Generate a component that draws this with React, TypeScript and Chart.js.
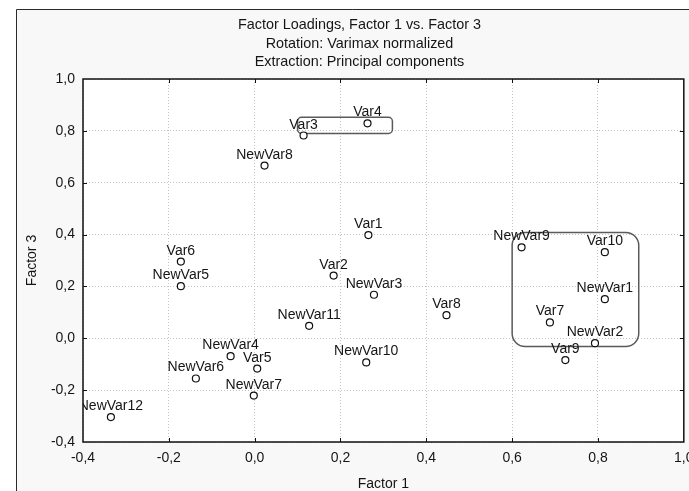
import React, { useEffect, useRef } from 'react';
import { Chart, registerables } from 'chart.js';

Chart.register(...registerables);

// ---- data ----
const varNames = [
  'Var4', 'Var3', 'NewVar8', 'Var6', 'NewVar5', 'Var2', 'Var1', 'NewVar9',
  'Var10', 'NewVar1', 'Var7', 'NewVar2', 'Var9', 'Var8', 'NewVar3', 'NewVar10',
  'NewVar11', 'NewVar4', 'Var5', 'NewVar6', 'NewVar7', 'NewVar12',
];
const factor1 = [
  0.263, 0.114, 0.023, -0.172, -0.172, 0.184, 0.265, 0.622,
  0.816, 0.816, 0.688, 0.793, 0.724, 0.447, 0.278, 0.260,
  0.127, -0.056, 0.006, -0.137, -0.002, -0.335,
];
const factor3 = [
  0.829, 0.782, 0.666, 0.296, 0.201, 0.242, 0.398, 0.351,
  0.332, 0.151, 0.061, -0.019, -0.084, 0.089, 0.168, -0.093,
  0.048, -0.069, -0.117, -0.155, -0.221, -0.304,
];
const titleLines = [
  'Factor Loadings, Factor 1 vs. Factor 3',
  'Rotation: Varimax normalized',
  'Extraction: Principal components',
];
const xAxisTitle = 'Factor 1';
const yAxisTitle = 'Factor 3';
const axisMin = -0.4;
const axisMax = 1.0;
const axisStep = 0.2;
// highlighted groups (rounded boxes), in data coordinates
const groupXMin = [0.100, 0.600];
const groupXMax = [0.321, 0.895];
const groupYMin = [0.790, -0.032];
const groupYMax = [0.852, 0.408];
const groupRadius = [4, 13];

const FONT = '"Liberation Sans", Arial, Helvetica, sans-serif';
const TEXT = '#151515';

const fmt = (v: number) => {
  const r = Math.abs(v) < 1e-9 ? 0 : v;
  return r.toFixed(1).replace('.', ',');
};

function roundRect(ctx: CanvasRenderingContext2D, x: number, y: number, w: number, h: number, r: number) {
  ctx.beginPath();
  ctx.moveTo(x + r, y);
  ctx.lineTo(x + w - r, y);
  ctx.arcTo(x + w, y, x + w, y + r, r);
  ctx.lineTo(x + w, y + h - r);
  ctx.arcTo(x + w, y + h, x + w - r, y + h, r);
  ctx.lineTo(x + r, y + h);
  ctx.arcTo(x, y + h, x, y + h - r, r);
  ctx.lineTo(x, y + r);
  ctx.arcTo(x, y, x + r, y, r);
  ctx.closePath();
}

const decor = {
  id: 'decor',
  afterLayout(chart: any) {
    const t = chart.titleBlock;
    if (t) {
      t.left = 16;
      t.right = 703;
      t.width = 687;
    }
  },
  beforeDraw(chart: any) {
    const { ctx, width, height, chartArea: a } = chart;
    ctx.save();
    ctx.fillStyle = '#ffffff';
    ctx.fillRect(0, 0, width, height);
    ctx.fillStyle = '#f8f8f8';
    ctx.fillRect(16, 9, width, height);
    ctx.strokeStyle = '#2a2a2a';
    ctx.lineWidth = 1;
    ctx.beginPath();
    ctx.moveTo(16.5, height);
    ctx.lineTo(16.5, 9.5);
    ctx.lineTo(width, 9.5);
    ctx.stroke();
    ctx.fillStyle = '#ffffff';
    ctx.fillRect(a.left, a.top, a.right - a.left, a.bottom - a.top);
    ctx.restore();
  },
  beforeDatasetsDraw(chart: any) {
    const { ctx } = chart;
    const xs = chart.scales.x;
    const ys = chart.scales.y;
    ctx.save();
    ctx.strokeStyle = '#5a5a5a';
    ctx.lineWidth = 1.5;
    for (let i = 0; i < groupXMin.length; i++) {
      const x1 = xs.getPixelForValue(groupXMin[i]);
      const x2 = xs.getPixelForValue(groupXMax[i]);
      const y1 = ys.getPixelForValue(groupYMax[i]);
      const y2 = ys.getPixelForValue(groupYMin[i]);
      roundRect(ctx, x1, y1, x2 - x1, y2 - y1, groupRadius[i]);
      ctx.stroke();
    }
    ctx.restore();
  },
  afterDatasetsDraw(chart: any) {
    const { ctx, chartArea: a } = chart;
    const xs = chart.scales.x;
    const ys = chart.scales.y;
    ctx.save();
    // point labels, clipped to the plot area
    ctx.beginPath();
    ctx.rect(a.left, a.top, a.right - a.left, a.bottom - a.top);
    ctx.clip();
    ctx.font = `14px ${FONT}`;
    ctx.fillStyle = TEXT;
    ctx.textAlign = 'center';
    ctx.textBaseline = 'alphabetic';
    for (let i = 0; i < varNames.length; i++) {
      const px = xs.getPixelForValue(factor1[i]);
      const py = ys.getPixelForValue(factor3[i]);
      ctx.fillText(varNames[i], px, py - 7);
    }
    ctx.restore();
    ctx.save();
    // plot border
    ctx.strokeStyle = '#111111';
    ctx.lineWidth = 1.5;
    ctx.strokeRect(a.left, a.top, a.right - a.left, a.bottom - a.top);
    // inward tick marks
    ctx.lineWidth = 1;
    ctx.beginPath();
    for (const t of xs.ticks) {
      const p = Math.round(xs.getPixelForValue(t.value)) + 0.5;
      if (p <= a.left + 2 || p >= a.right - 2) continue;
      ctx.moveTo(p, a.top);
      ctx.lineTo(p, a.top + 4);
      ctx.moveTo(p, a.bottom);
      ctx.lineTo(p, a.bottom - 4);
    }
    for (const t of ys.ticks) {
      const p = Math.round(ys.getPixelForValue(t.value)) + 0.5;
      if (p <= a.top + 2 || p >= a.bottom - 2) continue;
      ctx.moveTo(a.left, p);
      ctx.lineTo(a.left + 4, p);
      ctx.moveTo(a.right, p);
      ctx.lineTo(a.right - 4, p);
    }
    ctx.stroke();
    ctx.restore();
  },
};

export default function App() {
  const ref = useRef<HTMLCanvasElement>(null);
  useEffect(() => {
    document.body.style.margin = '0';
    Chart.defaults.font.family = FONT;
    const points = factor1.map((x, i) => ({ x, y: factor3[i] }));
    const chart = new Chart(ref.current as HTMLCanvasElement, {
      type: 'scatter',
      data: {
        datasets: [
          {
            label: 'Loadings',
            data: points,
            pointRadius: 3.5,
            pointBorderWidth: 1.2,
            pointBorderColor: '#111111',
            pointBackgroundColor: '#ffffff',
          },
        ],
      },
      plugins: [decor],
      options: {
        animation: false,
        responsive: false,
        devicePixelRatio: 1,
        layout: { padding: { left: 16, right: 4, top: 0, bottom: 0 } },
        plugins: {
          legend: { display: false },
          tooltip: { enabled: false },
          title: {
            display: true,
            text: titleLines,
            color: TEXT,
            font: { size: 14.4, weight: 'normal', family: FONT, lineHeight: '18.75px' },
            padding: { top: 15.6, bottom: 7.15 },
          },
        },
        scales: {
          x: {
            type: 'linear',
            position: 'bottom',
            min: axisMin,
            max: axisMax,
            ticks: {
              stepSize: axisStep,
              callback: (v: any) => fmt(Number(v)),
              font: { size: 14 },
              color: TEXT,
              padding: 8,
              maxRotation: 0,
              autoSkip: false,
            },
            grid: { color: '#c4c4c4', lineWidth: 1, drawTicks: false },
            border: { display: false, dash: [1, 2] },
            title: {
              display: true,
              text: xAxisTitle,
              color: TEXT,
              font: { size: 14, lineHeight: 1 },
              padding: 0,
            },
            afterFit: (s: any) => {
              s.height = 49;
              s.paddingLeft = 0;
              s.paddingRight = 0;
            },
          },
          y: {
            type: 'linear',
            min: axisMin,
            max: axisMax,
            ticks: {
              stepSize: axisStep,
              callback: (v: any) => fmt(Number(v)),
              font: { size: 14 },
              color: TEXT,
              padding: 8,
              autoSkip: false,
            },
            grid: { color: '#c4c4c4', lineWidth: 1, drawTicks: false },
            border: { display: false, dash: [1, 2] },
            title: {
              display: true,
              text: yAxisTitle,
              color: TEXT,
              font: { size: 14, lineHeight: 1.2 },
              padding: { top: 7.3, bottom: 0 },
            },
            afterFit: (s: any) => {
              s.width = 67;
              s.paddingTop = 0;
              s.paddingBottom = 0;
            },
          },
        },
      } as any,
    });
    return () => chart.destroy();
  }, []);
  return (
    <div style={{ width: 689, height: 491 }}>
      <canvas ref={ref} width={689} height={491} style={{ display: 'block', width: 689, height: 491 }} />
    </div>
  );
}
